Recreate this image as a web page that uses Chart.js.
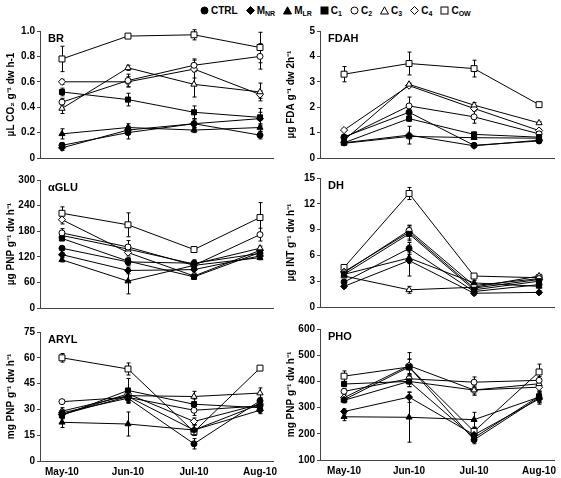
<!DOCTYPE html>
<html>
<head>
<meta charset="utf-8">
<script src="https://cdn.jsdelivr.net/npm/chart.js@4.4.0/dist/chart.umd.min.js"></script>
<style>
  html,body{margin:0;padding:0;background:#fff;}
  body{width:561px;height:478px;position:relative;overflow:hidden;font-family:"Liberation Sans",Arial,sans-serif;}
  .panel{position:absolute;}
  #legend{position:absolute;top:3px;left:200px;height:14px;display:flex;align-items:center;font:bold 10px "Liberation Sans",Arial,sans-serif;color:#000;white-space:nowrap;}
  #legend .it{display:flex;align-items:center;margin-right:8px;}
  #legend svg{margin-right:2px;}
  #legend sub{font-size:7px;vertical-align:-2px;line-height:0;}
</style>
</head>
<body>
<div id="legend"></div>
<script>
// ---------- categories / series ----------
const MONTHS = ["May-10", "Jun-10", "Jul-10", "Aug-10"];
const SERIES = ["CTRL", "MNR", "MLR", "C1", "C2", "C3", "C4", "COW"];

// ---------- values (rows in SERIES order, columns in MONTHS order) ----------
const BR_VALUES = [
  [0.10, 0.20, 0.27, 0.18],
  [0.08, 0.22, 0.27, 0.31],
  [0.19, 0.24, 0.22, 0.24],
  [0.52, 0.46, 0.36, 0.32],
  [0.44, 0.61, 0.73, 0.80],
  [0.39, 0.71, 0.58, 0.52],
  [0.60, 0.60, 0.70, 0.50],
  [0.78, 0.96, 0.97, 0.87]
];
const BR_ERRORS = [
  [0.02, 0.05, 0.03, 0.03],
  [0.02, 0.03, 0.04, 0.05],
  [0.04, 0.03, 0.02, 0.03],
  [0.03, 0.05, 0.05, 0.07],
  [0.03, 0.05, 0.05, 0.10],
  [0.04, 0.02, 0.10, 0.07],
  [0.02, 0.04, 0.07, 0.03],
  [0.10, 0.01, 0.04, 0.12]
];
const BR_TICKS = ["0", "0.2", "0.4", "0.6", "0.8", "1.0"];

const FDAH_VALUES = [
  [0.83, 1.80, 0.50, 0.67],
  [0.60, 0.90, 0.48, 0.70],
  [0.58, 0.85, 0.80, 0.78],
  [0.60, 1.55, 0.93, 0.82],
  [0.80, 2.05, 1.62, 0.95],
  [0.70, 2.90, 2.08, 1.38],
  [1.10, 2.85, 1.95, 1.08],
  [3.30, 3.72, 3.52, 2.10]
];
const FDAH_ERRORS = [
  [0.05, 0.10, 0.05, 0.05],
  [0.05, 0.35, 0.05, 0.05],
  [0.05, 0.10, 0.05, 0.05],
  [0.05, 0.10, 0.05, 0.05],
  [0.05, 0.35, 0.25, 0.05],
  [0.05, 0.05, 0.10, 0.05],
  [0.05, 0.05, 0.10, 0.05],
  [0.30, 0.45, 0.33, 0.08]
];
const FDAH_TICKS = ["0", "1", "2", "3", "4", "5"];

const GLU_VALUES = [
  [140, 108, 105, 128],
  [125, 88, 90, 122],
  [113, 63, 100, 118],
  [163, 110, 73, 130],
  [176, 143, 100, 172],
  [170, 138, 103, 140],
  [207, 130, 75, 135],
  [222, 195, 137, 212]
];
const GLU_ERRORS = [
  [5, 8, 8, 5],
  [5, 8, 8, 5],
  [5, 30, 8, 5],
  [5, 8, 5, 5],
  [10, 15, 8, 15],
  [5, 10, 8, 5],
  [10, 8, 5, 5],
  [15, 28, 5, 35]
];
const GLU_TICKS = ["0", "60", "120", "180", "240", "300"];

const DH_VALUES = [
  [2.9, 6.8, 1.8, 2.6],
  [2.4, 5.4, 1.6, 1.7],
  [3.8, 5.7, 2.8, 2.4],
  [3.8, 8.5, 2.0, 3.0],
  [4.0, 8.9, 2.5, 3.3],
  [3.6, 2.0, 2.3, 3.6],
  [4.1, 8.7, 2.2, 3.2],
  [4.6, 13.2, 3.6, 3.4]
];
const DH_ERRORS = [
  [0.2, 0.7, 0.2, 0.2],
  [0.2, 1.8, 0.2, 0.2],
  [0.2, 0.6, 0.3, 0.2],
  [0.2, 0.8, 0.2, 0.2],
  [0.2, 0.6, 0.2, 0.2],
  [0.2, 0.4, 0.2, 0.2],
  [0.2, 0.8, 0.2, 0.2],
  [0.2, 0.7, 0.2, 0.2]
];
const DH_TICKS = ["0", "3", "6", "9", "12", "15"];

const ARYL_VALUES = [
  [28, 36.5, 10, 35],
  [27, 37.5, 18, 29.5],
  [22.5, 21.5, 18, 33],
  [26.5, 41, 33, 31],
  [34.5, 37, 29.5, 32],
  [29, 38, 37.5, 39.5],
  [27, 39, 23, 33],
  [60, 53.5, 17, 54]
];
const ARYL_ERRORS = [
  [2, 3, 3, 2],
  [2, 3, 3, 2],
  [3, 7, 3, 2],
  [2, 7, 3, 2],
  [1, 3, 3, 2],
  [2, 3, 3, 3],
  [2, 3, 2, 2],
  [2.5, 3.5, 2, 1]
];
const ARYL_TICKS = ["0", "15", "30", "45", "60", "75"];

const PHO_VALUES = [
  [330, 455, 177, 338],
  [285, 340, 196, 333],
  [265, 263, 254, 340],
  [390, 400, 185, 343],
  [362, 410, 397, 404],
  [328, 400, 367, 391],
  [338, 460, 367, 378],
  [420, 455, 209, 436]
];
const PHO_ERRORS = [
  [10, 30, 15, 20],
  [10, 20, 15, 20],
  [15, 95, 28, 20],
  [10, 20, 15, 20],
  [10, 20, 20, 15],
  [10, 20, 15, 15],
  [10, 50, 20, 15],
  [20, 30, 15, 30]
];
const PHO_TICKS = ["100", "200", "300", "400", "500", "600"];

// ---------- styling ----------
const MARKERS = [
  {style: 'circle',  fill: '#000', r: 3},
  {style: 'rectRot', fill: '#000', r: 3.5},
  {style: 'triangle',fill: '#000', r: 3.5},
  {style: 'rect',    fill: '#000', r: 3.6},
  {style: 'circle',  fill: '#fff', r: 3},
  {style: 'triangle',fill: '#fff', r: 3.6},
  {style: 'rectRot', fill: '#fff', r: 3.6},
  {style: 'rect',    fill: '#fff', r: 4.2}
];
const FONT = '"Liberation Sans", Arial, sans-serif';

// ---------- plugins ----------
const errorBars = {
  id: 'errorBars',
  beforeDatasetsDraw(chart) {
    const ctx = chart.ctx, ys = chart.scales.y;
    ctx.save();
    ctx.strokeStyle = '#000';
    ctx.lineWidth = 1;
    chart.data.datasets.forEach((ds, di) => {
      const meta = chart.getDatasetMeta(di);
      meta.data.forEach((pt, i) => {
        const v = ds.data[i].y, e = ds.errors[i];
        if (!e) return;
        const x = Math.round(pt.x) + 0.5;
        const y1 = ys.getPixelForValue(v + e), y2 = ys.getPixelForValue(v - e);
        ctx.beginPath();
        ctx.moveTo(x, y1); ctx.lineTo(x, y2);
        ctx.moveTo(x - 2, y1); ctx.lineTo(x + 2, y1);
        ctx.moveTo(x - 2, y2); ctx.lineTo(x + 2, y2);
        ctx.stroke();
      });
    });
    ctx.restore();
  }
};
const panelName = {
  id: 'panelName',
  afterDraw(chart, args, opts) {
    const ctx = chart.ctx, a = chart.chartArea;
    ctx.save();
    ctx.fillStyle = '#000';
    ctx.font = 'bold 11px ' + FONT;
    ctx.textBaseline = 'top';
    ctx.textAlign = 'left';
    ctx.fillText(opts.text, a.left + 8, a.top + 2);
    ctx.restore();
  }
};

// ---------- panel builder ----------
function makePanel(cfg) {
  const divTop = cfg.plotTop - 12;
  const divBottom = cfg.bottomRow ? 478 : cfg.plotBottom + 5;
  const xH = cfg.bottomRow ? 17 : 0;
  const div = document.createElement('div');
  div.className = 'panel';
  div.style.left = cfg.left + 'px';
  div.style.top = divTop + 'px';
  div.style.width = cfg.width + 'px';
  div.style.height = (divBottom - divTop) + 'px';
  const cv = document.createElement('canvas');
  cv.width = cfg.width; cv.height = divBottom - divTop;
  cv.style.width = cfg.width + 'px'; cv.style.height = (divBottom - divTop) + 'px';
  div.appendChild(cv);
  document.body.appendChild(div);

  const datasets = SERIES.map((name, si) => ({
    label: name,
    data: cfg.values[si].map((v, i) => ({x: i, y: v})),
    errors: cfg.errors[si],
    borderColor: '#000',
    borderWidth: 1,
    tension: 0,
    fill: false,
    pointStyle: MARKERS[si].style,
    pointRadius: MARKERS[si].r,
    pointBackgroundColor: MARKERS[si].fill,
    pointBorderColor: '#000',
    pointBorderWidth: 1
  }));

  new Chart(cv, {
    type: 'line',
    data: {datasets},
    plugins: [errorBars, panelName],
    options: {
      responsive: false,
      animation: false,
      devicePixelRatio: 1,
      layout: {padding: {left: 0, right: cfg.left + cfg.width - cfg.plotRight, top: 12, bottom: divBottom - cfg.plotBottom - xH}},
      plugins: {
        legend: {display: false},
        tooltip: {enabled: false},
        panelName: {text: cfg.name}
      },
      scales: {
        x: {
          type: 'linear',
          min: cfg.xMin, max: cfg.xMax,
          afterBuildTicks: s => { s.ticks = MONTHS.map((m, i) => ({value: i})); },
          afterFit: s => { s.height = xH; },
          grid: {display: false},
          border: {display: true, color: '#444', width: 1},
          ticks: {
            display: cfg.bottomRow,
            padding: -3,
            autoSkip: false,
            maxRotation: 0,
            color: '#000',
            font: {family: FONT, size: 10, weight: 'bold'},
            callback: v => MONTHS[v]
          }
        },
        y: {
          type: 'linear',
          min: cfg.yMin, max: cfg.yMax,
          afterBuildTicks: s => { s.ticks = cfg.ticks.map((t, i) => ({value: cfg.yMin + i * cfg.step})); },
          afterFit: s => { s.width = cfg.plotLeft - cfg.left; },
          grid: {display: true, drawOnChartArea: false, drawTicks: true, tickLength: 3, color: '#444', lineWidth: 1},
          border: {display: true, color: '#444', width: 1},
          ticks: {
            padding: 2,
            color: '#000',
            font: {family: FONT, size: 10, weight: 'bold'},
            callback: (v, i) => cfg.ticks[i]
          },
          title: {
            display: true,
            text: cfg.title,
            color: '#000',
            padding: {top: 5, bottom: 0},
            font: {family: FONT, size: 10, weight: 'bold'}
          }
        }
      }
    }
  });
}

const LEFT = {left: 0, width: 280, plotLeft: 40, plotRight: 273, xMin: -0.333, xMax: 3.197};
const RIGHT = {left: 280, width: 281, plotLeft: 320, plotRight: 554, xMin: -0.37, xMax: 3.23};

makePanel(Object.assign({}, LEFT, {name: 'BR', title: 'µL CO₂ g⁻¹ dw h-1', values: BR_VALUES, errors: BR_ERRORS, ticks: BR_TICKS, yMin: 0, yMax: 1, step: 0.2, plotTop: 31, plotBottom: 161}));
makePanel(Object.assign({}, RIGHT, {name: 'FDAH', title: 'µg FDA g⁻¹ dw 2h⁻¹', values: FDAH_VALUES, errors: FDAH_ERRORS, ticks: FDAH_TICKS, yMin: 0, yMax: 5, step: 1, plotTop: 31, plotBottom: 161}));
makePanel(Object.assign({}, LEFT, {name: 'αGLU', title: 'µg PNP g⁻¹ dw h⁻¹', values: GLU_VALUES, errors: GLU_ERRORS, ticks: GLU_TICKS, yMin: 0, yMax: 300, step: 60, plotTop: 180, plotBottom: 311}));
makePanel(Object.assign({}, RIGHT, {name: 'DH', title: 'µg INT g⁻¹ dw h⁻¹', values: DH_VALUES, errors: DH_ERRORS, ticks: DH_TICKS, yMin: 0, yMax: 15, step: 3, plotTop: 178, plotBottom: 310}));
makePanel(Object.assign({}, LEFT, {name: 'ARYL', title: 'mg PNP g⁻¹ dw h⁻¹', values: ARYL_VALUES, errors: ARYL_ERRORS, ticks: ARYL_TICKS, yMin: 0, yMax: 75, step: 15, plotTop: 332, plotBottom: 461, bottomRow: true}));
makePanel(Object.assign({}, RIGHT, {name: 'PHO', title: 'mg PNP g⁻¹ dw h⁻¹', values: PHO_VALUES, errors: PHO_ERRORS, ticks: PHO_TICKS, yMin: 100, yMax: 600, step: 100, plotTop: 329, plotBottom: 460, bottomRow: true}));

// ---------- legend ----------
const LEGEND_LABELS = ["CTRL", "M<sub>NR</sub>", "M<sub>LR</sub>", "C<sub>1</sub>", "C<sub>2</sub>", "C<sub>3</sub>", "C<sub>4</sub>", "C<sub>OW</sub>"];
function markerSvg(m) {
  const f = m.fill, s = 'stroke="#000" stroke-width="1"';
  let shape;
  if (m.style === 'circle') shape = `<circle cx="4.5" cy="4.5" r="3.5" fill="${f}" ${s}/>`;
  else if (m.style === 'rect') shape = `<rect x="1" y="1" width="7" height="7" fill="${f}" ${s}/>`;
  else if (m.style === 'rectRot') shape = `<polygon points="4.5,0.5 8.5,4.5 4.5,8.5 0.5,4.5" fill="${f}" ${s}/>`;
  else shape = `<polygon points="4.5,0.8 8.5,8 0.5,8" fill="${f}" ${s}/>`;
  return `<svg width="9" height="9" viewBox="0 0 9 9">${shape}</svg>`;
}
document.getElementById('legend').innerHTML = LEGEND_LABELS.map((l, i) =>
  `<span class="it">${markerSvg(MARKERS[i])}<span>${l}</span></span>`).join('');
</script>
</body>
</html>
